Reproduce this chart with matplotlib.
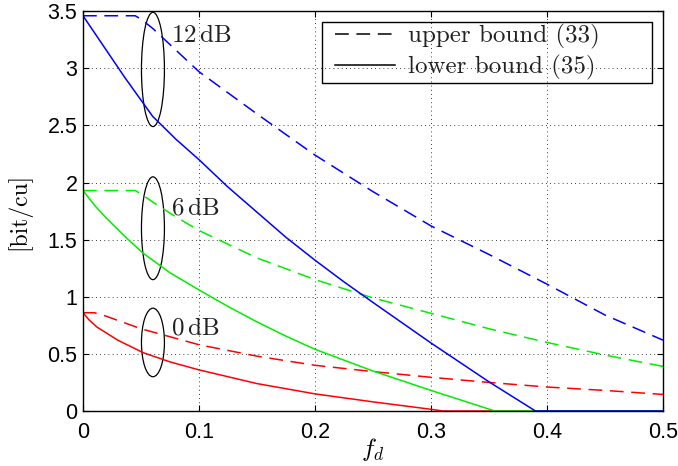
import matplotlib.pyplot as plt
from matplotlib.patches import Ellipse, Rectangle

plt.rcParams['mathtext.fontset'] = 'cm'

# Doppler values fd and rates [bit/cu]
fd_up = [0.0, 0.045, 0.05, 0.06, 0.08, 0.1, 0.15, 0.2, 0.25, 0.3, 0.35, 0.4, 0.45, 0.5]
up_12 = [3.46, 3.46, 3.43, 3.35, 3.16, 2.97, 2.6, 2.24, 1.92, 1.62, 1.37, 1.11, 0.84, 0.62]
up_6 = [1.93, 1.93, 1.9, 1.83, 1.7, 1.58, 1.34, 1.15, 0.99, 0.855, 0.72, 0.6, 0.49, 0.39]

fd_up0 = [0.0, 0.01, 0.02, 0.05, 0.1, 0.15, 0.2, 0.25, 0.3, 0.35, 0.4, 0.45, 0.5]
up_0 = [0.86, 0.86, 0.83, 0.72, 0.58, 0.48, 0.4, 0.345, 0.295, 0.25, 0.21, 0.18, 0.145]

fd_lo12 = [0.0, 0.01, 0.02, 0.036, 0.06, 0.08, 0.1, 0.125, 0.15, 0.175, 0.2, 0.225,
           0.25, 0.3, 0.35, 0.39, 0.5]
lo_12 = [3.46, 3.31, 3.16, 2.92, 2.58, 2.38, 2.2, 1.96, 1.74, 1.52, 1.32, 1.13,
         0.95, 0.595, 0.255, 0.0, 0.0]

fd_lo6 = [0.0, 0.01, 0.02, 0.038, 0.052, 0.075, 0.1, 0.125, 0.15, 0.175, 0.2, 0.25,
          0.3, 0.355, 0.5]
lo_6 = [1.93, 1.8, 1.69, 1.51, 1.38, 1.21, 1.06, 0.915, 0.78, 0.655, 0.54, 0.35,
        0.18, 0.0, 0.0]

fd_lo0 = [0.0, 0.005, 0.012, 0.03, 0.052, 0.075, 0.1, 0.15, 0.2, 0.25, 0.3, 0.31, 0.5]
lo_0 = [0.86, 0.8, 0.735, 0.62, 0.51, 0.43, 0.36, 0.24, 0.15, 0.08, 0.015, 0.0, 0.0]

snr_labels = [r'$\mathrm{12\,dB}$', r'$\mathrm{6\,dB}$', r'$\mathrm{0\,dB}$']
label_y = [3.29, 1.785, 0.735]
ell_y = [2.99, 1.6, 0.6]
ell_h = [1.0, 0.9, 0.6]

fig = plt.figure(figsize=(6.78, 4.66), dpi=100)
ax = fig.add_axes([0.1224, 0.118, 0.8556, 0.858])

lw = 1.1
dash = (9, 5)
ax.plot(fd_lo0, lo_0, color='#ff0000', lw=lw)
ax.plot(fd_up0, up_0, color='#ff0000', lw=lw, dashes=dash)
ax.plot(fd_lo6, lo_6, color='#00ee00', lw=lw)
ax.plot(fd_up, up_6, color='#00ee00', lw=lw, dashes=dash)
ax.plot(fd_lo12, lo_12, color='#0000ff', lw=lw)
ax.plot(fd_up, up_12, color='#0000ff', lw=lw, dashes=dash)

for y, h, t, ty in zip(ell_y, ell_h, snr_labels, label_y):
    ax.add_patch(Ellipse((0.0603, y), 0.0198, h, fill=False, ec='black', lw=0.9))
    ax.text(0.0755, ty, t, fontsize=18, ha='left', va='center', color='#222222')

# legend entries (black), frame drawn separately like the old matlab box
ax.plot([], [], color='black', lw=lw, dashes=dash, label='upper bound (33)')
ax.plot([], [], color='black', lw=lw, label='lower bound (35)')
leg = ax.legend(loc='upper left', bbox_to_anchor=(0.4345, 0.968), frameon=False,
                handlelength=2.4, handletextpad=0.5, borderpad=0, borderaxespad=0,
                labelspacing=0.24, prop={'family': 'cmr10', 'size': 18})
for l in leg.get_texts():
    l.set_color('#222222')
ax.add_patch(Rectangle((0.412, 0.82), 0.569, 0.1525, transform=ax.transAxes,
                       fill=False, ec='black', lw=1.0, zorder=5))

ax.set_xlim(0, 0.5)
ax.set_ylim(0, 3.5)
ax.set_xticks([0, 0.1, 0.2, 0.3, 0.4, 0.5])
ax.set_xticklabels(['0', '0.1', '0.2', '0.3', '0.4', '0.5'])
ax.set_yticks([0, 0.5, 1, 1.5, 2, 2.5, 3, 3.5])
ax.set_yticklabels(['0', '0.5', '1', '1.5', '2', '2.5', '3', '3.5'])
ax.tick_params(direction='in', top=True, right=True, length=4, width=0.8,
               labelsize=15.5)
ax.tick_params(axis='x', pad=8)
ax.tick_params(axis='y', pad=4)
for lab in ax.get_xticklabels() + ax.get_yticklabels():
    lab.set_family('Liberation Sans')
ax.grid(True, color='black', linestyle=(0, (1, 4)), lw=0.6)
for s in ax.spines.values():
    s.set_linewidth(1.0)

ax.set_xlabel('$f_d$', fontsize=18, labelpad=-5)
ax.set_ylabel('[bit/cu]', fontsize=17, family='cmr10', labelpad=12)

fig.savefig('out.png', dpi=100)
